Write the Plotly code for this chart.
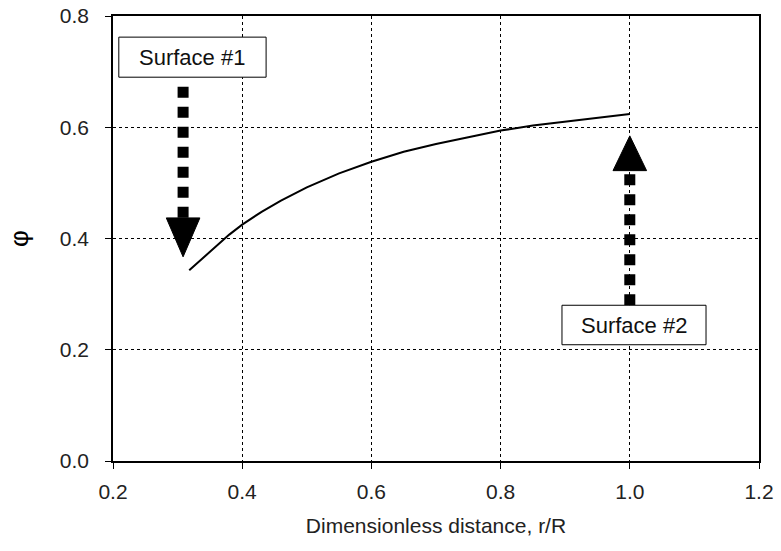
import plotly.graph_objects as go

# Curve data: phi vs dimensionless distance r/R
r_over_R = [0.318, 0.34, 0.36, 0.38, 0.40, 0.43, 0.46, 0.50, 0.55, 0.60,
            0.65, 0.70, 0.75, 0.80, 0.85, 0.90, 0.95, 1.00]
phi = [0.343, 0.366, 0.387, 0.407, 0.425, 0.448, 0.468, 0.492, 0.517, 0.538,
       0.556, 0.570, 0.582, 0.594, 0.603, 0.610, 0.617, 0.624]

x_ticks = [0.2, 0.4, 0.6, 0.8, 1.0, 1.2]
x_tick_labels = ["0.2", "0.4", "0.6", "0.8", "1.0", "1.2"]
y_ticks = [0.0, 0.2, 0.4, 0.6, 0.8]
y_tick_labels = ["0.0", "0.2", "0.4", "0.6", "0.8"]

# Annotation labels and positions (data coords)
labels = ["Surface #1", "Surface #2"]
box_x0 = [0.209, 0.895]
box_x1 = [0.437, 1.118]
box_y0 = [0.690, 0.209]
box_y1 = [0.762, 0.280]
arrow_x = [0.3085, 1.0]
arrow_tail_y = [0.673, 0.280]
arrow_base_y = [0.437, 0.522]
arrow_tip_y = [0.367, 0.5845]
head_half_w = 0.026

FONT = "Liberation Sans, Arial, sans-serif"

fig = go.Figure()
fig.add_trace(go.Scatter(x=r_over_R, y=phi, mode="lines",
                         line=dict(color="black", width=2), showlegend=False,
                         hoverinfo="skip"))

shapes = []
annotations = []
for i in range(2):
    # dotted thick shaft
    shapes.append(dict(type="line", xref="x", yref="y",
                       x0=arrow_x[i], x1=arrow_x[i], y0=arrow_tail_y[i], y1=arrow_base_y[i],
                       line=dict(color="black", width=11, dash="11px,9px"), layer="above"))
    # arrow head
    xa = arrow_x[i]
    path = (f"M {xa - head_half_w} {arrow_base_y[i]} L {xa + head_half_w} {arrow_base_y[i]} "
            f"L {xa} {arrow_tip_y[i]} Z")
    shapes.append(dict(type="path", xref="x", yref="y", path=path,
                       fillcolor="black", line=dict(color="black", width=1), layer="above"))
    # label box
    shapes.append(dict(type="rect", xref="x", yref="y",
                       x0=box_x0[i], x1=box_x1[i], y0=box_y0[i], y1=box_y1[i],
                       fillcolor="white", line=dict(color="black", width=1), layer="above"))
    annotations.append(dict(x=(box_x0[i] + box_x1[i]) / 2, y=(box_y0[i] + box_y1[i]) / 2,
                            xref="x", yref="y", text=labels[i], showarrow=False,
                            font=dict(family=FONT, size=22, color="#111")))

fig.update_layout(
    width=781, height=551,
    margin=dict(l=113, r=22, t=16, b=90),
    paper_bgcolor="white", plot_bgcolor="white",
    shapes=shapes, annotations=annotations,
    font=dict(family=FONT, size=21, color="#222"),
    hovermode=False,
    xaxis=dict(range=[0.2, 1.2], tickvals=x_ticks, ticktext=x_tick_labels,
               showline=True, linecolor="black", linewidth=1.5, mirror=True,
               ticks="outside", ticklen=6, tickcolor="black", automargin=False,
               ticklabelstandoff=5, ticklabeloverflow="allow",
               showgrid=True, gridcolor="black", gridwidth=1, griddash="dot",
               zeroline=False,
               title=dict(text="Dimensionless distance, r/R", standoff=16,
                          font=dict(family=FONT, size=21, color="#222"))),
    yaxis=dict(range=[0.0, 0.8], tickvals=y_ticks, ticktext=y_tick_labels,
               showline=True, linecolor="black", linewidth=1.5, mirror=True,
               ticks="outside", ticklen=6, tickcolor="black", automargin=False,
               ticklabelstandoff=12, ticklabeloverflow="allow",
               showgrid=True, gridcolor="black", gridwidth=1, griddash="dot",
               zeroline=False,
               title=dict(text="φ", standoff=24,
                          font=dict(family=FONT, size=26, color="black"))),
)

fig.write_html("out.html", config={"displayModeBar": False},
               post_script="document.body.style.margin='0';document.body.style.overflow='hidden';")
